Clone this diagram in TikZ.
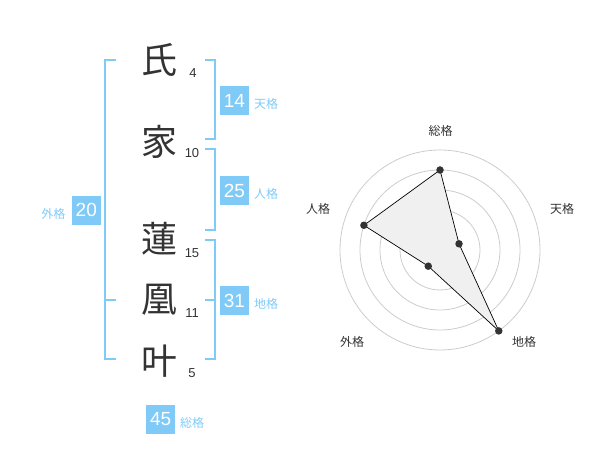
\documentclass[tikz,border=0pt]{standalone}
\usepackage{fontspec}
\newfontfamily\jp{Noto Sans CJK JP}
\newfontfamily\num{Liberation Sans}
\usetikzlibrary{calc}
\definecolor{bl}{RGB}{128,202,248}
\definecolor{ink}{RGB}{51,51,51}
\definecolor{ring}{RGB}{204,204,204}
\definecolor{area}{RGB}{240,240,240}
\begin{document}
\begin{tikzpicture}[x=1pt,y=-1pt,
  kanji/.style={font=\jp\fontsize{36}{36}\selectfont, text=ink, inner sep=0},
  strokes/.style={font=\num\fontsize{13}{13}\selectfont, text=ink, inner sep=0},
  valbox/.style={fill=bl, text=white, minimum size=29pt, inner sep=0, font=\num\fontsize{19}{19}\selectfont},
  lab/.style={text=bl, font=\jp\fontsize{12}{12}\selectfont, inner sep=0},
  rlab/.style={text=ink, font=\jp\fontsize{12}{12}\selectfont, inner sep=0},
  brk/.style={draw=bl, line width=2pt},
  ringline/.style={draw=ring, line width=0.8pt},
  dot/.style={circle, fill=ink, inner sep=0, minimum size=7.5pt}]
\useasboundingbox (0,0) rectangle (600,470);

% characters
\node[kanji] (k1) at (159,60) {氏};
\node[kanji] (k2) at (159,142) {家};
\node[kanji] (k3) at (159,239) {蓮};
\node[kanji] (k4) at (159,300) {凰};
\node[kanji] (k5) at (159,361) {叶};
\node[strokes] (n1) at (193,73) {4};
\node[strokes] (n2) at (192,153.5) {10};
\node[strokes] (n3) at (192,253) {15};
\node[strokes] (n4) at (192,313) {11};
\node[strokes] (n5) at (192,373) {5};

% brackets
\draw[brk] (116,60) -- (104.5,60) -- (104.5,359.5) -- (116,359.5);
\draw[brk] (104.5,300) -- (116,300);
\draw[brk] (205,60) -- (214.5,60) -- (214.5,139.5) -- (205,139.5);
\draw[brk] (205,149.5) -- (214.5,149.5) -- (214.5,230) -- (205,230);
\draw[brk] (205,240) -- (214.5,240) -- (214.5,359.5) -- (205,359.5);
\draw[brk] (205,300) -- (214.5,300);

% value boxes
\node[valbox] (v14) at (234.5,100.5) {14};
\node[valbox] (v25) at (234.5,190.5) {25};
\node[valbox] (v31) at (234.5,300.5) {31};
\node[valbox] (v20) at (86.3,210.3) {20};
\node[valbox] (v45) at (160.7,419) {45};
\node[lab] (l14) at (266,104) {天格};
\node[lab] (l25) at (266,193.5) {人格};
\node[lab] (l31) at (266,304) {地格};
\node[lab] (l20) at (53.5,213.5) {外格};
\node[lab] (l45) at (192,423) {総格};

% radar
\coordinate (c) at (440,250);
\foreach \r in {20,40,60,80,100} \draw[ringline] (c) circle[radius=\r pt];
\fill[ring] (c) circle[radius=3.8pt];
\coordinate (ps) at ($(c)+(-90:80)$);
\coordinate (pt) at ($(c)+(-18:20)$);
\coordinate (pc) at ($(c)+(54:100)$);
\coordinate (pg) at ($(c)+(126:20)$);
\coordinate (pj) at ($(c)+(-162:80)$);
\draw[fill=area, draw=black, line width=0.7pt] (ps) -- (pt) -- (pc) -- (pg) -- (pj) -- cycle;
\foreach \p in {ps,pt,pc,pg,pj} \node[dot] (d\p) at (\p) {};
\node[rlab] (rs) at (440.5,130.5) {総格};
\node[rlab] (rt) at (562,209) {天格};
\node[rlab] (rj) at (318,209) {人格};
\node[rlab] (rg) at (352,342) {外格};
\node[rlab] (rc) at (524,342) {地格};
\end{tikzpicture}
\end{document}
